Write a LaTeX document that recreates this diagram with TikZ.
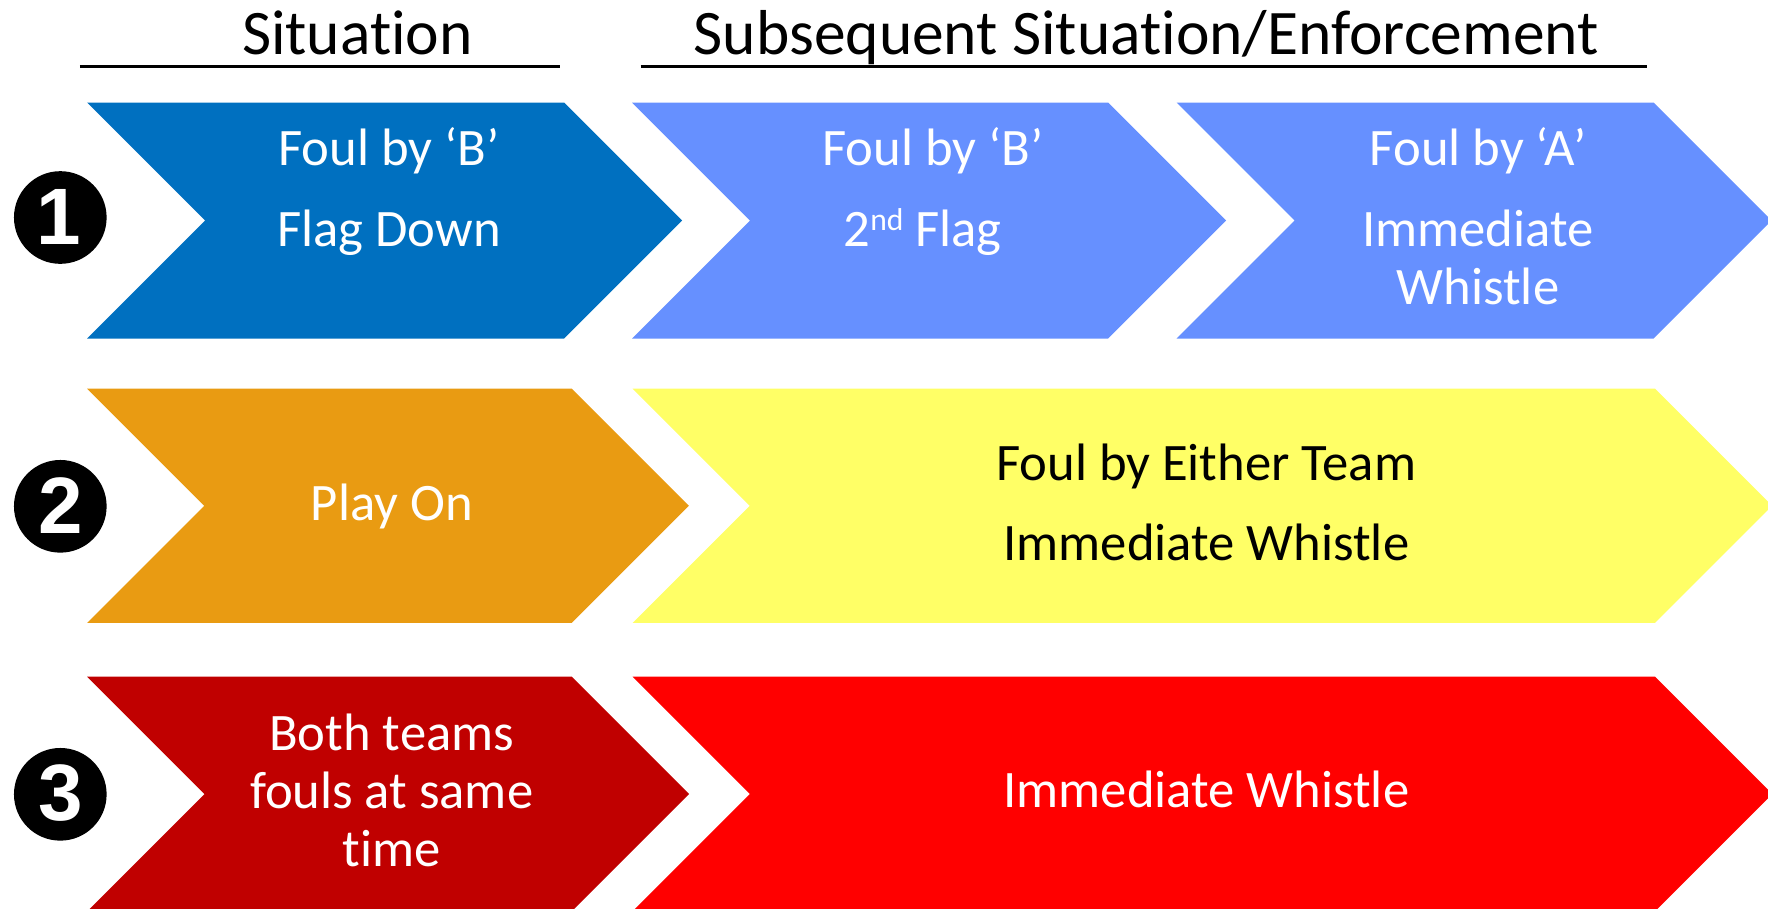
\documentclass[tikz,border=0pt]{standalone}
\usepackage{fontspec}
\setmainfont[Ligatures=NoCommon]{Carlito}
\newfontfamily\numfont{Liberation Sans}
\usetikzlibrary{calc}

\definecolor{darkblue}{HTML}{0070C0}
\definecolor{lightblue}{HTML}{6690FF}
\definecolor{amber}{HTML}{E99B12}
\definecolor{paleyellow}{HTML}{FFFF66}
\definecolor{darkred}{HTML}{C00000}
\definecolor{brightred}{HTML}{FF0000}

% chevron: fill colour, left x, right x (top corner), top y, bottom y
\newcommand\chevshape[5]{%
  \pgfmathsetmacro\chM{(#4+#5)/2}%
  \pgfmathsetmacro\chD{(#5-#4)/2}%
  \fill[#1] (#2,#4) -- (#3,#4) -- ({#3+\chD},\chM) -- (#3,#5) -- (#2,#5)
    -- ({#2+\chD},\chM) -- cycle;%
}

\begin{document}
\begin{tikzpicture}[x=0.75pt,y=-0.75pt,
  headtxt/.style={font=\fontsize{47.6}{56}\selectfont, text=black, inner sep=0pt, anchor=base},
  chevtxt/.style={font=\fontsize{39.5}{47}\selectfont, text=white, inner sep=0pt, anchor=base},
  darktxt/.style={chevtxt, text=black},
  rule/.style={line width=1.9pt, black},
  badge/.style={circle, fill=black, minimum size=69.5pt, inner sep=0pt},
  badgenum/.style={font=\numfont\bfseries\fontsize{60}{60}\selectfont, text=white, inner sep=0pt}]
\useasboundingbox (0,0) rectangle (1768,908);
\clip (0,0) rectangle (1768,908);

% column headings
\node[headtxt] (hsit) at (357.4,54.3) {Situation};
\node[headtxt] (hsub) at (1146.4,54.3) {Subsequent Situation/Enforcement};
\draw[rule] (79.8,66.3) -- (559.6,66.3);
\draw[rule] (640.5,66.3) -- (1647.4,66.3);

% row 1
\chevshape{darkblue}{87.2}{564.2}{102.5}{338.5}
\chevshape{lightblue}{632}{1108.2}{102.5}{338.5}
\chevshape{lightblue}{1176.7}{1653.6}{102.5}{338.5}
% row 2
\chevshape{amber}{87.2}{571.8}{388.7}{622.9}
\chevshape{paleyellow}{632.6}{1655}{388.7}{622.9}
% row 3
\chevshape{darkred}{87.2}{571.8}{676.7}{911.3}
\chevshape{brightred}{632.6}{1655}{676.7}{911.3}

% numbered badges
\node[badge] (n1) at (60.3,217.5) {};
\node[badgenum] (d1) at (58.5,216.5) {1};
\node[badge] (n2) at (60.3,506.3) {};
\node[badgenum] (d2) at (60.3,505.5) {2};
\node[badge] (n3) at (60.3,794.3) {};
\node[badgenum] (d3) at (60.3,793.5) {3};

% row 1 texts
\node[chevtxt] (a1) at (389,165) {Foul by ‘B’};
\node[chevtxt] (a2) at (389,246.7) {Flag Down};
\node[chevtxt] (b1) at (933,165) {Foul by ‘B’};
\node[chevtxt] (b2) at (922.7,246.7) {2\raisebox{12.5pt}{\fontsize{23.7}{28}\selectfont nd} Flag};
\node[chevtxt] (c1) at (1478,165) {Foul by ‘A’};
\node[chevtxt] (c2) at (1478,246.7) {Immediate};
\node[chevtxt] (c3) at (1478,304) {Whistle};

% row 2 texts
\node[chevtxt] (p1) at (391.8,520.8) {Play On};
\node[darktxt] (y1) at (1206.3,480) {Foul by Either Team};
\node[darktxt] (y2) at (1206.3,560) {Immediate Whistle};

% row 3 texts
\node[chevtxt] (r1) at (391.7,750) {Both teams};
\node[chevtxt] (r2) at (391.7,808.3) {fouls at same};
\node[chevtxt] (r3) at (391.7,866.7) {time};
\node[chevtxt] (s1) at (1206.3,807) {Immediate Whistle};
\end{tikzpicture}
\end{document}
